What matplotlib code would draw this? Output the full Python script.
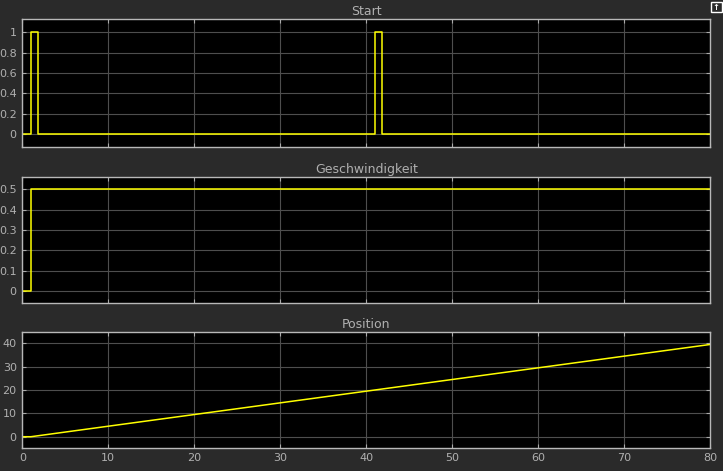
import numpy as np
import matplotlib
matplotlib.use("Agg")
import matplotlib.pyplot as plt
from matplotlib.patches import Rectangle

# Data (piecewise signals read from the scope)
start_t = [0, 1, 1, 1.8, 1.8, 41, 41, 41.8, 41.8, 80]
start_v = [0, 0, 1, 1, 0, 0, 1, 1, 0, 0]
speed_t = [0, 1, 1, 80]
speed_v = [0, 0, 0.5, 0.5]
pos_t = [0, 1, 80]
pos_v = [0, 0, 39.5]

titles = ["Start", "Geschwindigkeit", "Position"]
x_ticks = [0, 10, 20, 30, 40, 50, 60, 70, 80]
y_ticks_start = [0, 0.2, 0.4, 0.6, 0.8, 1]
y_ticks_speed = [0, 0.1, 0.2, 0.3, 0.4, 0.5]
y_ticks_pos = [0, 10, 20, 30, 40]

W, H = 723, 471
bg = "#2a2a2a"
txt = "#b0b0b0"
fig = plt.figure(figsize=(W / 100, H / 100), dpi=100, facecolor=bg)

def ax_at(x0, y0, x1, y1):
    return fig.add_axes([x0 / W, 1 - y1 / H, (x1 - x0) / W, (y1 - y0) / H])

boxes = [(22.3, 19.3, 710.3, 146.7), (22.3, 177.3, 710.3, 303.3), (22.3, 332.3, 710.3, 447.7)]
data = [(start_t, start_v, y_ticks_start, (-0.125, 1.127), ["0", "0.2", "0.4", "0.6", "0.8", "1"]),
        (speed_t, speed_v, y_ticks_speed, (-0.059, 0.559), ["0", "0.1", "0.2", "0.3", "0.4", "0.5"]),
        (pos_t, pos_v, y_ticks_pos, (-4.7, 44.7), ["0", "10", "20", "30", "40"])]

for i, (box, (t, v, yt, yl, ytl)) in enumerate(zip(boxes, data)):
    ax = ax_at(*box)
    ax.set_facecolor("black")
    ax.plot(t, v, color="#ffff00", lw=1.1)
    ax.set_xlim(0, 80)
    ax.set_ylim(*yl)
    ax.set_xticks(x_ticks)
    ax.set_yticks(yt)
    ax.set_yticklabels(ytl)
    ax.grid(True, color="#4e4e4e", lw=0.8)
    ax.tick_params(direction="in", length=3, color="#aaaaaa", labelcolor=txt,
                   labelsize=8, top=True, right=True, pad=4)
    if i < 2:
        ax.tick_params(labelbottom=False)
    for s in ax.spines.values():
        s.set_color("#b8b8b8")
        s.set_linewidth(1.0)
    ax.set_title(titles[i], color=txt, fontsize=9, pad=3)

# undock icon in the top-right corner
fig.patches.append(Rectangle((710.5 / W, 1 - 11.5 / H), 11.5 / W, 9.5 / H, transform=fig.transFigure,
                             fill=False, edgecolor="white", lw=1.0))
fig.text(716.3 / W, 1 - 7 / H, "\u2191", color="white", fontsize=6, ha="center", va="center",
         fontweight="bold")

fig.savefig("out.png", dpi=100, facecolor=bg)
